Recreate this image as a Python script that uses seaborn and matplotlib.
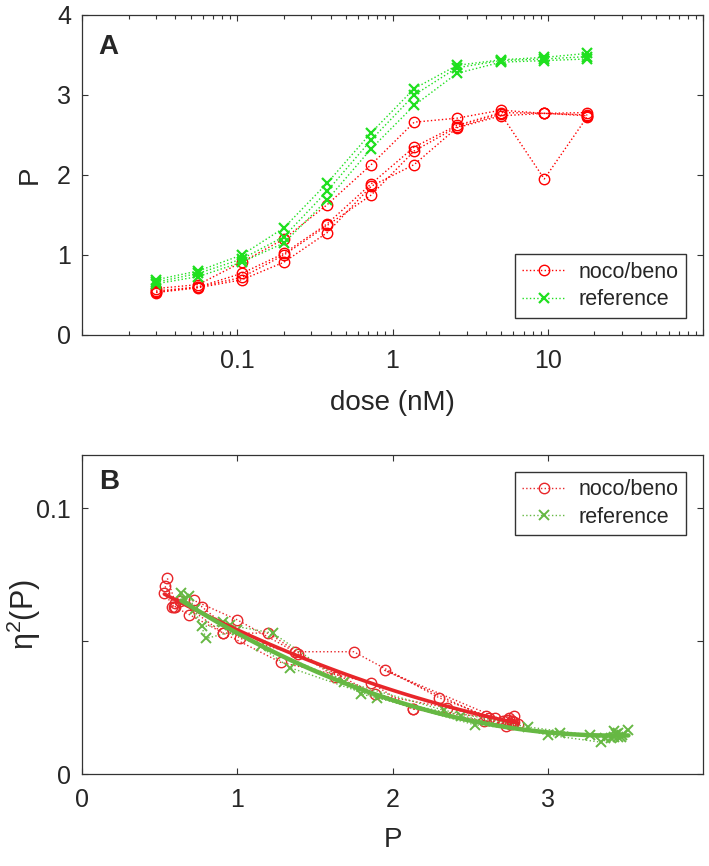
import numpy as np
import pandas as pd
import seaborn as sns
import matplotlib
matplotlib.use("Agg")
import matplotlib.pyplot as plt
from matplotlib.ticker import FixedLocator, LogLocator, NullFormatter
from matplotlib.lines import Line2D

# ---------------------------------------------------------------
# Datos
# ---------------------------------------------------------------
dose = [0.03, 0.056, 0.107, 0.2, 0.38, 0.73, 1.38, 2.6, 5.0, 9.5, 18.0]

# P para cada serie noco/beno (rojo)
noco_P = [
    [0.58, 0.63, 0.91, 1.20, 1.63, 2.13, 2.66, 2.71, 2.81, 2.77, 2.78],
    [0.55, 0.60, 0.77, 1.02, 1.39, 1.89, 2.35, 2.62, 2.78, 2.77, 2.75],
    [0.535, 0.60, 0.72, 1.00, 1.37, 1.75, 2.30, 2.60, 2.76, 1.95, 2.73],
    [0.53, 0.59, 0.69, 0.91, 1.28, 1.86, 2.13, 2.59, 2.74, 2.77, 2.74],
]
# eta^2 para cada serie noco/beno
noco_eta = [
    [0.063, 0.065, 0.053, 0.053, 0.0366, 0.0245, 0.021, 0.020, 0.019, 0.020, 0.0195],
    [0.0736, 0.0645, 0.063, 0.051, 0.045, 0.030, 0.025, 0.021, 0.022, 0.020, 0.021],
    [0.0706, 0.063, 0.0653, 0.058, 0.046, 0.046, 0.0287, 0.022, 0.019, 0.039, 0.018],
    [0.068, 0.063, 0.060, 0.053, 0.042, 0.0344, 0.0245, 0.020, 0.021, 0.019, 0.020],
]

# P para cada serie reference (verde)
ref_P = [
    [0.69, 0.80, 1.00, 1.34, 1.90, 2.53, 3.08, 3.37, 3.44, 3.47, 3.52],
    [0.66, 0.77, 0.95, 1.23, 1.80, 2.44, 3.00, 3.34, 3.43, 3.45, 3.48],
    [0.64, 0.73, 0.91, 1.15, 1.69, 2.33, 2.87, 3.27, 3.41, 3.43, 3.45],
]
ref_eta = [
    [0.067, 0.051, 0.054, 0.040, 0.0287, 0.0185, 0.0155, 0.0135, 0.015, 0.014, 0.0165],
    [0.066, 0.0555, 0.056, 0.053, 0.030, 0.022, 0.0147, 0.012, 0.014, 0.0155, 0.0145],
    [0.068, 0.062, 0.057, 0.048, 0.0348, 0.024, 0.0177, 0.0147, 0.0135, 0.016, 0.014],
]

RED = "#ff0000"
GREEN_A = "#1fe01f"
RED_B = "#e8262a"
GREEN_B = "#66b843"

sns.set_style("ticks")
plt.rcParams["font.family"] = ["Liberation Sans", "DejaVu Sans"]
plt.rcParams["mathtext.fontset"] = "custom"
plt.rcParams["mathtext.rm"] = "Liberation Sans"
plt.rcParams["mathtext.it"] = "Liberation Sans:italic"

fig = plt.figure(figsize=(7.09, 8.66), dpi=100)
axA = fig.add_axes([0.1157, 0.6132, 0.8758, 0.3695])
axB = fig.add_axes([0.1157, 0.1062, 0.8758, 0.3684])

line_kw = dict(linestyle=":", linewidth=1.0, markersize=7.5)


def style_axes(ax):
    for sp in ax.spines.values():
        sp.set_visible(True)
        sp.set_color("#333333")
        sp.set_linewidth(0.9)
    ax.tick_params(which="both", direction="in", top=True, right=True,
                   color="#333333", labelsize=18, width=0.8)
    ax.tick_params(which="major", length=4.5)
    ax.tick_params(which="minor", length=3)
    ax.tick_params(axis="y", pad=8)
    ax.tick_params(axis="x", pad=10)


leg_kw = dict(fontsize=15.5, frameon=True, fancybox=False, edgecolor="#333333",
              framealpha=1, handlelength=2.0, borderaxespad=0,
              labelspacing=0.3, borderpad=0.35, handletextpad=0.6)

# ---------------------------------------------------------------
# Panel A: P vs dosis
# ---------------------------------------------------------------
for vals in noco_P:
    sns.lineplot(x=dose, y=vals, color=RED, marker="o", mfc="none",
                 mec=RED, mew=1.0, ax=axA, **line_kw)
for vals in ref_P:
    sns.lineplot(x=dose, y=vals, color=GREEN_A, marker="x", mec=GREEN_A,
                 mew=1.6, ax=axA, **line_kw)

axA.set_xscale("log")
axA.set_xlim(0.01, 100)
axA.set_ylim(0, 4)
axA.xaxis.set_major_locator(FixedLocator([0.01, 0.1, 1, 10, 100]))
axA.set_xticklabels(["", "0.1", "1", "10", ""])
axA.xaxis.set_minor_locator(LogLocator(base=10, subs=np.arange(2, 10)))
axA.xaxis.set_minor_formatter(NullFormatter())
axA.set_yticks([0, 1, 2, 3, 4])
axA.set_yticklabels(["0", "1", "2", "3", "4"])
style_axes(axA)
axA.set_xlabel("dose (nM)", fontsize=20, labelpad=12)
axA.set_ylabel("P", fontsize=20)
axA.yaxis.set_label_coords(-0.063, 0.5)
axA.text(0.027, 0.94, "A", transform=axA.transAxes, fontsize=20,
         fontweight="bold", va="top", ha="left")

handlesA = [
    Line2D([], [], color=RED, marker="o", mfc="none", **line_kw),
    Line2D([], [], color=GREEN_A, marker="x", mew=1.6, **line_kw),
]
axA.legend(handlesA, ["noco/beno", "reference"], loc="lower right",
           bbox_to_anchor=(0.9726, 0.053), **leg_kw)

# ---------------------------------------------------------------
# Panel B: eta^2 vs P
# ---------------------------------------------------------------
for px, ey in zip(noco_P, noco_eta):
    sns.lineplot(x=px, y=ey, color=RED_B, marker="o", mfc="none",
                 mec=RED_B, mew=1.0, sort=False, ax=axB, **line_kw)
for px, ey in zip(ref_P, ref_eta):
    sns.lineplot(x=px, y=ey, color=GREEN_B, marker="x", mec=GREEN_B,
                 mew=1.4, sort=False, ax=axB, **line_kw)

noco_df = pd.DataFrame({"P": np.concatenate(noco_P), "eta": np.concatenate(noco_eta)})
ref_df = pd.DataFrame({"P": np.concatenate(ref_P), "eta": np.concatenate(ref_eta)})
sns.regplot(data=noco_df, x="P", y="eta", order=2, ci=None, scatter=False,
            truncate=True, color=RED_B, line_kws=dict(linewidth=2.6), ax=axB)
sns.regplot(data=ref_df, x="P", y="eta", order=2, ci=None, scatter=False,
            truncate=True, color=GREEN_B, line_kws=dict(linewidth=3.2), ax=axB)

axB.set_xlim(0, 4)
axB.set_ylim(0, 0.12)
axB.set_xticks([0, 1, 2, 3])
axB.set_xticklabels(["0", "1", "2", "3"])
axB.set_yticks([0, 0.05, 0.1])
axB.set_yticklabels(["0", "", "0.1"])
style_axes(axB)
axB.set_xlabel("P", fontsize=20, labelpad=11)
axB.set_ylabel(r"$\mathregular{\eta^{2}}$(P)", fontsize=22)
axB.yaxis.set_label_coords(-0.063, 0.5)
axB.text(0.027, 0.955, "B", transform=axB.transAxes, fontsize=20,
         fontweight="bold", va="top", ha="left")

handlesB = [
    Line2D([], [], color=RED_B, marker="o", mfc="none", **line_kw),
    Line2D([], [], color=GREEN_B, marker="x", mew=1.4, **line_kw),
]
axB.legend(handlesB, ["noco/beno", "reference"], loc="upper right",
           bbox_to_anchor=(0.9726, 0.947), **leg_kw)

fig.savefig("out.png", dpi=100)
